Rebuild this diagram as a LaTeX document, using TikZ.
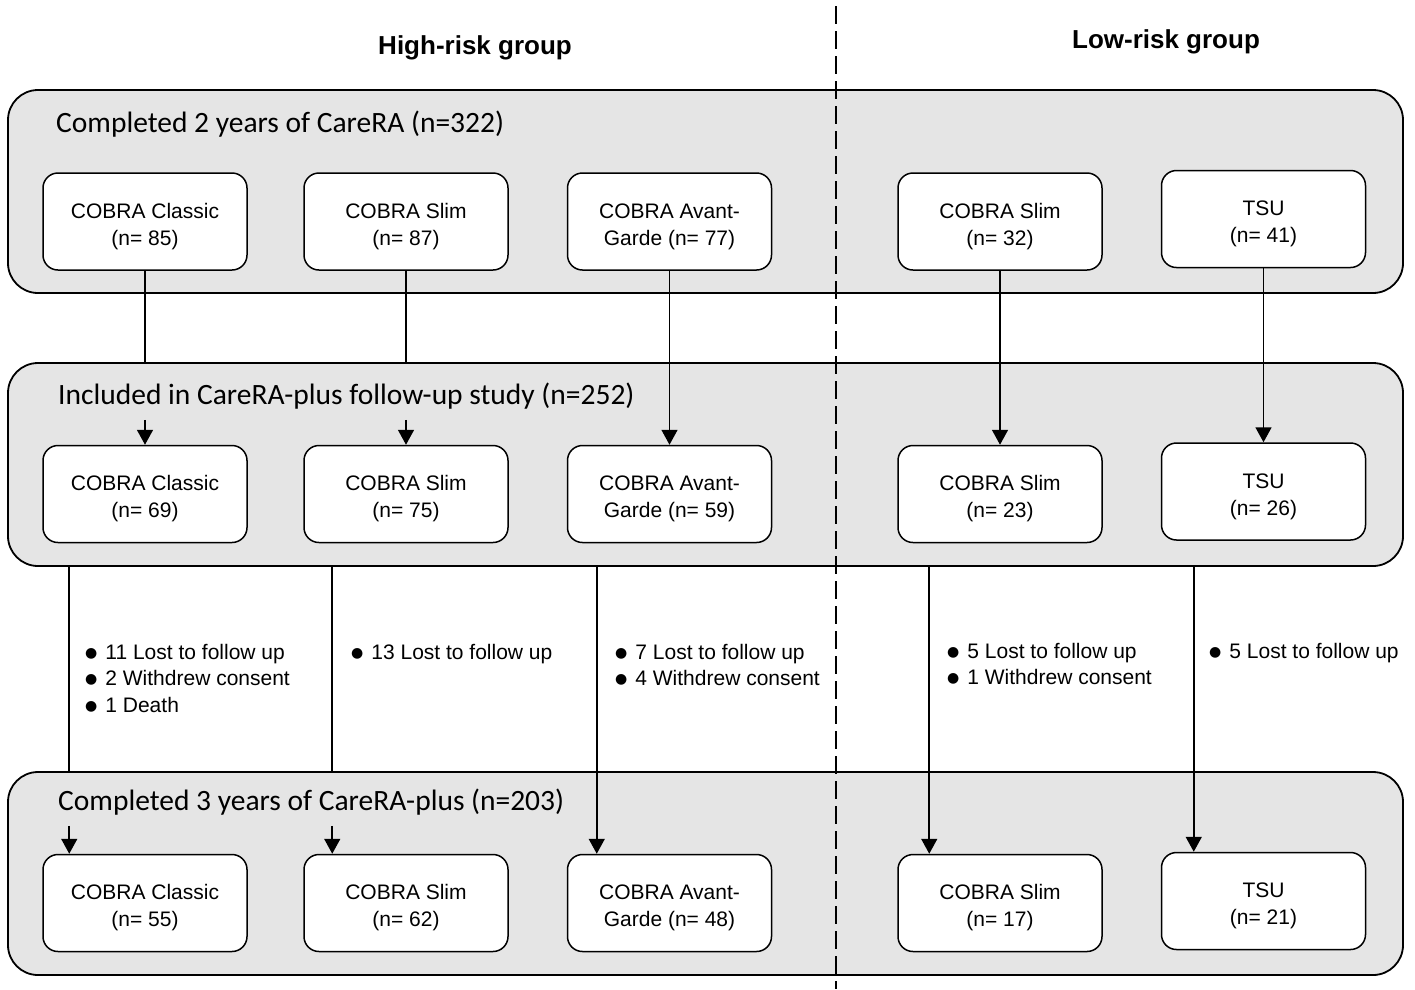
\documentclass[tikz,border=0pt]{standalone}
\usepackage{fontspec}
\setmainfont{Liberation Sans}
\newfontfamily\panelfont{Carlito}
\newfontfamily\dotfont{DejaVu Sans}
\usetikzlibrary{arrows.meta,calc}
\newcommand{\lossdot}{\raisebox{2pt}{\dotfont\fontsize{14}{14}\selectfont ●}\hspace{8pt}}

\begin{document}
\begin{tikzpicture}[x=1pt,y=-1pt,
  panel/.style={draw,line width=1.8pt,fill=black!10,rounded corners=30pt,minimum width=1395pt,minimum height=203pt,inner sep=0pt},
  arm/.style={draw,line width=1.5pt,fill=white,rounded corners=15pt,minimum width=204pt,minimum height=97pt,align=center,font=\fontsize{21}{27}\selectfont,execute at begin node={\rule{0pt}{52pt}}},
  ptitle/.style={anchor=west,inner sep=0pt,font=\panelfont\fontsize{29.5}{32}\selectfont},
  grp/.style={inner sep=0pt,font=\bfseries\fontsize{26}{30}\selectfont},
  loss/.style={anchor=north west,inner sep=0pt,align=left,font=\fontsize{21}{26.5}\selectfont},
  divider/.style={line width=2.6pt,dash pattern=on 18pt off 7pt},
  link/.style={line width=1.6pt},
  arr/.style={line width=1.6pt,-{Triangle[length=15pt,width=16pt]}}]
  \useasboundingbox (0,0) rectangle (1415,989);

  \node[panel] (p1) at (705.5,191.5) {};
  \node[panel] (p2) at (705.5,464.5) {};
  \node[panel] (p3) at (705.5,873.5) {};

  \coordinate (divtop) at (836,6);
  \coordinate (divbot) at (836,989);
  \draw[divider] (divtop) -- (divbot);

  \node[grp] (high) at (475,48) {High-risk group};
  \node[grp] (low) at (1166,42) {Low-risk group};

  \node[ptitle] (t1) at (56,124) {Completed 2 years of CareRA (n=322)};
  \node[ptitle] (t2) at (58,396) {Included in CareRA-plus follow-up study (n=252)};
  \node[ptitle] (t3) at (58,802) {Completed 3 years of CareRA-plus (n=203)};

  \node[arm] (a1) at (145,221.5) {COBRA Classic\\(n= 85)};
  \node[arm] (a2) at (406,221.5) {COBRA Slim\\(n= 87)};
  \node[arm] (a3) at (669.5,221.5) {COBRA Avant-\\Garde (n= 77)};
  \node[arm] (a4) at (1000,221.5) {COBRA Slim\\(n= 32)};
  \node[arm] (a5) at (1263.5,219) {TSU\\(n= 41)};

  \node[arm] (b1) at (145,494) {COBRA Classic\\(n= 69)};
  \node[arm] (b2) at (406,494) {COBRA Slim\\(n= 75)};
  \node[arm] (b3) at (669.5,494) {COBRA Avant-\\Garde (n= 59)};
  \node[arm] (b4) at (1000,494) {COBRA Slim\\(n= 23)};
  \node[arm] (b5) at (1263.5,491.5) {TSU\\(n= 26)};

  \node[arm] (c1) at (145,903) {COBRA Classic\\(n= 55)};
  \node[arm] (c2) at (406,903) {COBRA Slim\\(n= 62)};
  \node[arm] (c3) at (669.5,903) {COBRA Avant-\\Garde (n= 48)};
  \node[arm] (c4) at (1000,903) {COBRA Slim\\(n= 17)};
  \node[arm] (c5) at (1263.5,901) {TSU\\(n= 21)};

  \coordinate (s1) at ($(b1.north)+(0,-25)$);
  \coordinate (s2) at ($(b2.north)+(0,-25)$);
  \draw[link] (a1.south) -- (a1.south |- p2.north);
  \draw[link] (a2.south) -- (a2.south |- p2.north);
  \draw[arr] (s1) -- (b1.north);
  \draw[arr] (s2) -- (b2.north);
  \draw[arr] (a3.south) -- (b3.north);
  \draw[arr] (a4.south) -- (b4.north);
  \draw[arr] (a5.south) -- (b5.north);

  \coordinate (d1) at ([xshift=27pt]b1.south west |- p2.south);
  \coordinate (d2) at ([xshift=29pt]b2.south west |- p2.south);
  \coordinate (d3) at ([xshift=30pt]b3.south west |- p2.south);
  \coordinate (d4) at ([xshift=32pt]b4.south west |- p2.south);
  \coordinate (d5) at ([xshift=33pt]b5.south west |- p2.south);
  \coordinate (e1) at (d1 |- c1.north);
  \coordinate (e2) at (d2 |- c2.north);
  \draw[link] (d1) -- (d1 |- p3.north);
  \draw[link] (d2) -- (d2 |- p3.north);
  \draw[arr] ($(e1)+(0,-28)$) -- (e1);
  \draw[arr] ($(e2)+(0,-28)$) -- (e2);
  \draw[arr] (d3) -- (d3 |- c3.north);
  \draw[arr] (d4) -- (d4 |- c4.north);
  \draw[arr] (d5) -- (d5 |- c5.north);

  \node[loss] (l1) at (85,644) {\lossdot 11 Lost to follow up\\\lossdot 2 Withdrew consent\\\lossdot 1 Death};
  \node[loss] (l2) at (351,644) {\lossdot 13 Lost to follow up};
  \node[loss] (l3) at (615,644) {\lossdot 7 Lost to follow up\\\lossdot 4 Withdrew consent};
  \node[loss] (l4) at (947,643) {\lossdot 5 Lost to follow up\\\lossdot 1 Withdrew consent};
  \node[loss] (l5) at (1209,643) {\lossdot 5 Lost to follow up};
\end{tikzpicture}
\end{document}
